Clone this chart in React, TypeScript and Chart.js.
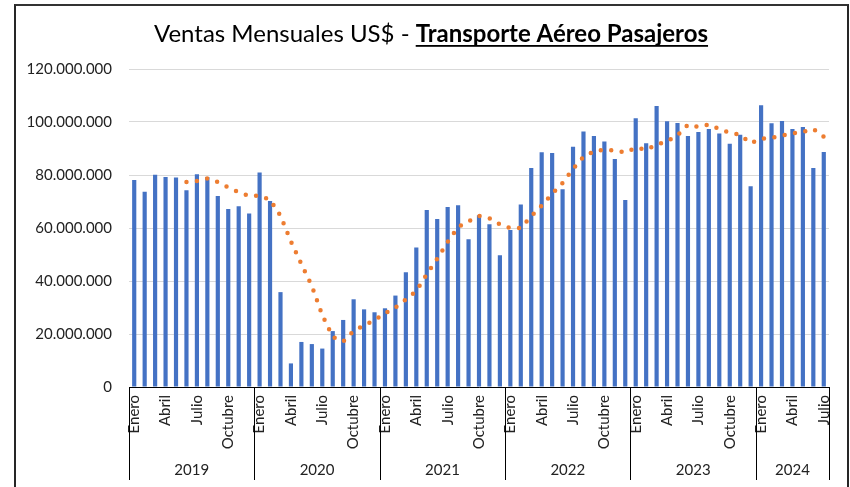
import React, { useEffect, useRef } from 'react';
import { Chart, registerables } from 'chart.js';

Chart.register(...registerables);

const tituloNormal = 'Ventas Mensuales US$ - ';
const tituloNegrita = 'Transporte Aéreo Pasajeros';

const meses = ['Enero', 'Febrero', 'Marzo', 'Abril', 'Mayo', 'Junio', 'Julio', 'Agosto', 'Septiembre', 'Octubre', 'Noviembre', 'Diciembre'];
const anios = ['2019', '2020', '2021', '2022', '2023', '2024'];
const mesesPorAnio = [12, 12, 12, 12, 12, 7];

const ventas = [
  78100000, 73700000, 80100000, 79200000, 79100000, 74200000, 80300000, 79200000, 72100000, 67200000, 68200000, 65500000,
  80900000, 70200000, 35800000, 8900000, 17000000, 16200000, 14500000, 21100000, 25300000, 33100000, 29300000, 28200000,
  29700000, 34500000, 43300000, 52600000, 66800000, 63400000, 67900000, 68600000, 55800000, 64800000, 61400000, 49700000,
  59200000, 68900000, 82600000, 88600000, 88300000, 74600000, 90700000, 96400000, 94700000, 92600000, 86000000, 70600000,
  101400000, 92000000, 106000000, 100300000, 99600000, 94700000, 96200000, 97400000, 95700000, 91800000, 95200000, 75800000,
  106300000, 99500000, 100400000, 97400000, 98100000, 82600000, 88700000,
];

const promedioMovil = [
  null, null, null, null, null, 77400000, 77770000, 78680000, 77350000, 75350000, 73530000, 72080000,
  72180000, 70680000, 64630000, 54920000, 46380000, 38170000, 27100000, 18920000, 17170000, 21200000, 23250000, 25250000,
  27780000, 30020000, 33020000, 36270000, 42520000, 48380000, 54750000, 60430000, 62520000, 64550000, 63650000, 61370000,
  59920000, 59970000, 64430000, 68400000, 72880000, 77030000, 82280000, 86870000, 88880000, 89550000, 89170000, 88500000,
  90280000, 89550000, 91430000, 92720000, 94980000, 99000000, 98130000, 99030000, 97320000, 95900000, 95170000, 92020000,
  93700000, 94050000, 94830000, 95770000, 96250000, 97380000, 94450000,
];

const etiquetas: string[] = [];
mesesPorAnio.forEach((n) => {
  for (let i = 0; i < n; i++) etiquetas.push(meses[i]);
});

const FONT = 'Lato, "Open Sans", sans-serif';

const formato = (v: number) => String(Math.round(v)).replace(/\B(?=(\d{3})+(?!\d))/g, '.');

const tituloPlugin = {
  id: 'tituloMixto',
  afterDraw(chart: any) {
    const ctx = chart.ctx;
    ctx.save();
    const size = 24;
    const fNormal = `${size}px ${FONT}`;
    const fBold = `bold ${size}px ${FONT}`;
    ctx.font = fNormal;
    const w1 = ctx.measureText(tituloNormal).width;
    ctx.font = fBold;
    const w2 = ctx.measureText(tituloNegrita).width;
    const cx = 431;
    const x0 = cx - (w1 + w2) / 2;
    const base = 42;
    ctx.fillStyle = '#000';
    ctx.textAlign = 'left';
    ctx.textBaseline = 'alphabetic';
    ctx.font = fNormal;
    ctx.fillText(tituloNormal, x0, base);
    ctx.font = fBold;
    ctx.fillText(tituloNegrita, x0 + w1, base);
    ctx.fillRect(x0 + w1, base + 3, w2, 1.8);
    ctx.restore();
  },
};

const gruposPlugin = {
  id: 'gruposAnios',
  afterDraw(chart: any) {
    const xs = chart.scales.x;
    const ctx = chart.ctx;
    const n = chart.data.labels.length;
    const w = (xs.right - xs.left) / n;
    const top = xs.top;
    const bottom = xs.top + 93;
    ctx.save();
    ctx.strokeStyle = '#000';
    ctx.lineWidth = 1;
    ctx.fillStyle = '#222';
    ctx.font = `15px ${FONT}`;
    ctx.textAlign = 'center';
    ctx.textBaseline = 'middle';
    let inicio = 0;
    const bordes: number[] = [0];
    mesesPorAnio.forEach((m) => {
      inicio += m;
      bordes.push(inicio);
    });
    bordes.forEach((b) => {
      const px = Math.round(xs.left + b * w) + 0.5;
      ctx.beginPath();
      ctx.moveTo(px, top);
      ctx.lineTo(px, bottom);
      ctx.stroke();
    });
    anios.forEach((a, i) => {
      const l = xs.left + bordes[i] * w;
      const r = xs.left + bordes[i + 1] * w;
      ctx.fillText(a, (l + r) / 2, top + 83);
    });
    ctx.restore();
  },
};

export default function App() {
  const ref = useRef<HTMLCanvasElement | null>(null);

  useEffect(() => {
    if (!ref.current) return;
    const chart = new Chart(ref.current, {
      type: 'bar',
      data: {
        labels: etiquetas,
        datasets: [
          {
            type: 'line',
            label: '6 per. Media móvil',
            data: promedioMovil as any,
            borderColor: '#ED7D31',
            backgroundColor: '#ED7D31',
            borderWidth: 4.5,
            borderDash: [0, 10.5],
            borderCapStyle: 'round',
            pointRadius: 0,
            tension: 0,
            fill: false,
            order: 0,
          } as any,
          {
            type: 'bar',
            label: 'Ventas',
            data: ventas,
            backgroundColor: '#4472C4',
            barPercentage: 0.4,
            categoryPercentage: 1,
            order: 1,
          },
        ],
      },
      options: {
        responsive: false,
        animation: false,
        devicePixelRatio: 1,
        layout: { padding: { left: 0, right: 21, top: 69, bottom: 0 } },
        plugins: {
          legend: { display: false },
          tooltip: { enabled: false },
          title: { display: false },
        },
        scales: {
          x: {
            grid: { display: true, color: 'rgba(0,0,0,0)', drawTicks: false },
            border: { display: true, color: '#000', width: 1 },
            ticks: {
              autoSkip: false,
              minRotation: 90,
              maxRotation: 90,
              padding: 8,
              color: '#222',
              font: { family: FONT, size: 15 },
              callback: (_v: any, i: number) => (i % 3 === 0 ? etiquetas[i] : ''),
            },
            afterFit: (s: any) => {
              s.height = 100;
            },
          },
          y: {
            min: 0,
            max: 120000000,
            grid: { color: '#D9D9D9', lineWidth: 1, drawTicks: false },
            border: { display: false },
            ticks: {
              stepSize: 20000000,
              padding: 17,
              color: '#222',
              font: { family: FONT, size: 15 },
              callback: (v: any) => formato(Number(v)),
            },
            afterFit: (s: any) => {
              s.width = 129;
            },
          },
        },
      },
      plugins: [tituloPlugin, gruposPlugin],
    });
    return () => chart.destroy();
  }, []);

  return (
    <div style={{ position: 'absolute', left: 0, top: 0, width: 850, height: 487, overflow: 'hidden', background: '#fff' }}>
      <div
        style={{
          position: 'absolute',
          left: 14,
          top: 4,
          width: 835,
          height: 600,
          boxSizing: 'border-box',
          border: '2px solid #262626',
          borderTopColor: '#333',
        }}
      />
      <canvas ref={ref} width={850} height={487} style={{ position: 'absolute', left: 0, top: 0, width: 850, height: 487 }} />
    </div>
  );
}
